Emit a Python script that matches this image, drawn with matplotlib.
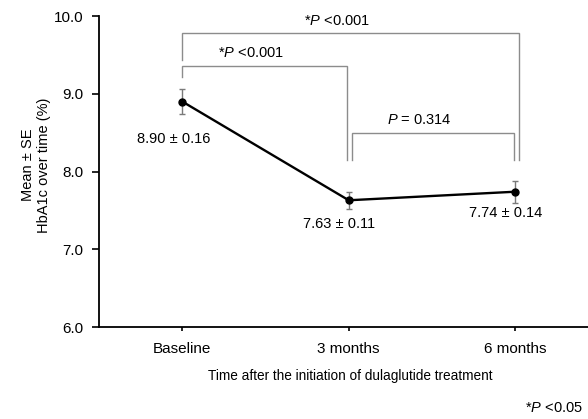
import matplotlib
matplotlib.use("Agg")
import matplotlib.pyplot as plt

plt.rcParams["font.family"] = ["Liberation Sans", "DejaVu Sans"]
plt.rcParams["mathtext.fontset"] = "custom"
plt.rcParams["mathtext.rm"] = "Liberation Sans"
plt.rcParams["mathtext.it"] = "Liberation Sans:italic"

# data
timepoints = ["Baseline", "3 months", "6 months"]
hba1c_mean = [8.90, 7.63, 7.74]
hba1c_se = [0.16, 0.11, 0.14]
value_labels = ["8.90 \u00b1 0.16", "7.63 \u00b1 0.11", "7.74 \u00b1 0.14"]
y_ticks = [6.0, 7.0, 8.0, 9.0, 10.0]

# comparisons: (left, right, bar height, left leg end, right leg end, text)
comparisons = [
    (0.0, 0.99, 9.36, 9.22, 8.15, "*$P$ <0.001"),
    (0.0, 2.02, 9.78, 9.43, 8.15, "*$P$ <0.001"),
    (1.02, 1.99, 8.50, 8.15, 8.15, "$P$ = 0.314"),
]

fig = plt.figure(figsize=(5.88, 4.19), dpi=100)
ax = fig.add_axes([99 / 588, 1 - 327 / 419, (588 - 99) / 588, (327 - 16) / 419])

x = range(len(timepoints))
ax.errorbar(x, hba1c_mean, yerr=hba1c_se, fmt="none", ecolor="#7a7a7a",
            elinewidth=1, capsize=2, capthick=1, zorder=2)
ax.plot(x, hba1c_mean, color="black", lw=1.7, marker="o", markersize=5, zorder=3)

label_pos = [(-0.05, 8.42), (0.94, 7.33), (1.94, 7.47)]
for (lx, ly), txt in zip(label_pos, value_labels):
    ax.text(lx, ly, txt, ha="center", va="center", fontsize=10.5)

for left, right, top, lend, rend, txt in comparisons:
    ax.plot([left, left, right, right], [lend, top, top, rend],
            color="#8c8c8c", lw=1, solid_joinstyle="miter", zorder=1)
    ax.text((left + right) / 2 - 0.08, top + 0.16, txt, ha="center", va="center",
            fontsize=10.5)

ax.set_xlim(-0.5, 2.437)
ax.set_ylim(6.0, 10.0)
ax.set_xticks(list(x))
ax.set_xticklabels(timepoints, fontsize=11)
ax.set_yticks(y_ticks)
ax.set_yticklabels(["%.1f" % v for v in y_ticks], fontsize=11)
ax.tick_params(axis="y", length=5, width=1.2, pad=6)
ax.tick_params(axis="x", length=3, width=1.2, pad=8)
ax.spines["top"].set_visible(False)
ax.spines["right"].set_visible(False)
ax.spines["left"].set_linewidth(1.3)
ax.spines["bottom"].set_linewidth(1.3)

# axis titles placed on the figure
fig.text(36 / 588, 1 - 165 / 419, "Mean \u00b1 SE\nHbA1c over time (%)",
         rotation=90, ha="center", va="center", fontsize=10.5, linespacing=1.2)
fig.text(350 / 588, 1 - 376 / 419, "Time after the initiation of dulaglutide treatment",
         ha="center", va="center", fontsize=9.8)
fig.text(583 / 588, 1 - 408 / 419, "*$P$ <0.05", ha="right", va="center",
         fontsize=10.5)

fig.savefig("out.png", dpi=100)
